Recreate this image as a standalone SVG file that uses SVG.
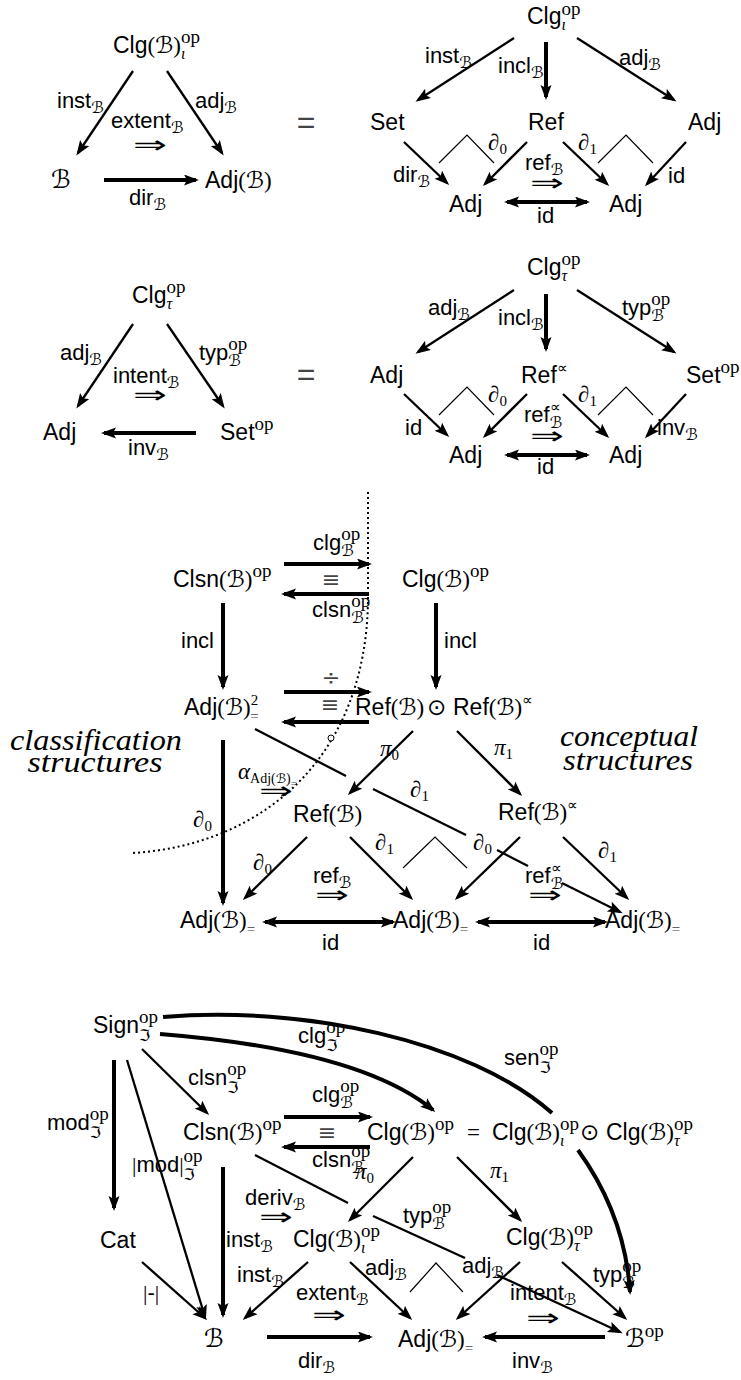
<svg xmlns="http://www.w3.org/2000/svg" width="741" height="1380" viewBox="0 0 741 1380">
<defs>
<style>
text{font-family:"Liberation Sans",Arial,sans-serif;font-size:23px;fill:#000}
.lb{font-size:22px}
.c{font-family:"DejaVu Sans",sans-serif;font-size:23px}
.cs{font-family:"DejaVu Sans",sans-serif;font-size:16px}
.rm{font-family:"Liberation Serif",serif}
.op{font-family:"Liberation Serif",serif;font-size:19px;font-style:normal}
.rs{font-family:"Liberation Serif",serif;font-size:15px;font-style:normal}
.mi{font-family:"Liberation Serif",serif;font-style:italic}
.mis{font-family:"Liberation Serif",serif;font-style:italic;font-size:16px}
.sym{font-family:"DejaVu Sans",sans-serif}
.gr{fill:#444}
.it{font-family:"Liberation Serif",serif;font-style:italic;font-size:30px}
.dbl{font-family:"DejaVu Sans",sans-serif;font-size:24px}
.t{stroke:#000;stroke-width:2.3;fill:none}
.k{stroke:#000;stroke-width:4;fill:none}
.w{stroke:#000;stroke-width:1.2;fill:none}
.dot{stroke:#000;stroke-width:2;fill:none;stroke-dasharray:2 3}
.a{marker-end:url(#ah)}
.aa{marker-start:url(#ah);marker-end:url(#ah)}
</style>
<marker id="ah" markerUnits="userSpaceOnUse" markerWidth="16" markerHeight="12" refX="12" refY="5.5" orient="auto-start-reverse"><path d="M0,0 L15,5.5 L0,11 L3,5.5 z" fill="#000"/></marker>
</defs>
<rect width="741" height="1380" fill="#fff"/>

<!-- ===== Diagram 1 ===== -->
<g id="d1-clg"><text x="113" y="53">Clg<tspan class="rm">(</tspan><tspan class="c">ℬ</tspan><tspan class="rm">)</tspan><tspan class="op" y="43">op</tspan><tspan class="mis" dx="-19" y="59">ι</tspan></text></g>
<g id="d1-b"><text class="c" x="51" y="188" style="font-size:25px">ℬ</text></g>
<g id="d1-adj"><text x="205" y="188">Adj<tspan class="rm">(</tspan><tspan class="c">ℬ</tspan><tspan class="rm">)</tspan></text></g>
<g id="eq1"><text x="306" y="133" text-anchor="middle" class="gr" style="font-size:32px">=</text></g>

<!-- ===== Diagram 2 ===== -->
<g id="d2-clg"><text x="527" y="24">Clg<tspan class="op" y="15">op</tspan><tspan class="mis" dx="-19" y="30">ι</tspan></text></g>
<g id="d2-set"><text x="370" y="130">Set</text></g>
<g id="d2-ref"><text x="528" y="130">Ref</text></g>
<g id="d2-adjr"><text x="688" y="130">Adj</text></g>
<g id="d2-adj1"><text x="449" y="212">Adj</text></g>
<g id="d2-adj2"><text x="609" y="212">Adj</text></g>

<!-- ===== Diagram 3 ===== -->
<g id="d3-clg"><text x="132" y="303">Clg<tspan class="op" y="293">op</tspan><tspan class="mis" dx="-19" y="309">τ</tspan></text></g>
<g id="d3-adj"><text x="43" y="440">Adj</text></g>
<g id="d3-set"><text x="220" y="440">Set<tspan class="op" y="430">op</tspan></text></g>
<g id="eq2"><text x="306" y="385" text-anchor="middle" class="gr" style="font-size:32px">=</text></g>

<!-- ===== Diagram 4 ===== -->
<g id="d4-clg"><text x="527" y="275">Clg<tspan class="op" y="265">op</tspan><tspan class="mis" dx="-19" y="281">τ</tspan></text></g>
<g id="d4-adjl"><text x="370" y="383">Adj</text></g>
<g id="d4-ref"><text x="521" y="383">Ref<tspan class="rs" y="373">∝</tspan></text></g>
<g id="d4-set"><text x="686" y="383">Set<tspan class="op" y="373">op</tspan></text></g>
<g id="d4-adj1"><text x="449" y="463">Adj</text></g>
<g id="d4-adj2"><text x="609" y="463">Adj</text></g>

<!-- ===== Middle diagram ===== -->
<g id="m-clsn"><text x="173" y="587">Clsn<tspan class="rm">(</tspan><tspan class="c">ℬ</tspan><tspan class="rm">)</tspan><tspan class="op" y="577">op</tspan></text></g>
<g id="m-clg"><text x="402" y="587">Clg<tspan class="rm">(</tspan><tspan class="c">ℬ</tspan><tspan class="rm">)</tspan><tspan class="op" y="577">op</tspan></text></g>
<g id="m-adj2"><text x="184" y="715">Adj<tspan class="rm">(</tspan><tspan class="c">ℬ</tspan><tspan class="rm">)</tspan><tspan class="rs" y="705">2</tspan><tspan class="rs gr" dx="-8" y="721">=</tspan></text></g>
<g id="m-refref"><text x="355" y="715">Ref<tspan class="rm">(</tspan><tspan class="c">ℬ</tspan><tspan class="rm">)</tspan><tspan class="sym" x="427">⊙</tspan><tspan x="453">Ref</tspan><tspan class="rm">(</tspan><tspan class="c">ℬ</tspan><tspan class="rm">)</tspan><tspan class="rs" y="705">∝</tspan></text></g>
<g id="m-ref"><text x="293" y="822">Ref<tspan class="rm">(</tspan><tspan class="c">ℬ</tspan><tspan class="rm">)</tspan></text></g>
<g id="m-refp"><text x="498" y="820">Ref<tspan class="rm">(</tspan><tspan class="c">ℬ</tspan><tspan class="rm">)</tspan><tspan class="rs" y="810">∝</tspan></text></g>
<g id="m-adj-l"><text x="180" y="928">Adj<tspan class="rm">(</tspan><tspan class="c">ℬ</tspan><tspan class="rm">)</tspan><tspan class="rs gr" y="934">=</tspan></text></g>
<g id="m-adj-m"><text x="393" y="928">Adj<tspan class="rm">(</tspan><tspan class="c">ℬ</tspan><tspan class="rm">)</tspan><tspan class="rs gr" y="934">=</tspan></text></g>
<g id="m-adj-r"><text x="605" y="928">Adj<tspan class="rm">(</tspan><tspan class="c">ℬ</tspan><tspan class="rm">)</tspan><tspan class="rs gr" y="934">=</tspan></text></g>
<g id="m-class"><text class="it" x="96" y="750" text-anchor="middle" textLength="172" lengthAdjust="spacingAndGlyphs">classification</text><text class="it" x="95" y="772" text-anchor="middle" textLength="135" lengthAdjust="spacingAndGlyphs">structures</text></g>
<g id="m-concept"><text class="it" x="629" y="746" text-anchor="middle" textLength="138" lengthAdjust="spacingAndGlyphs">conceptual</text><text class="it" x="628" y="770" text-anchor="middle" textLength="130" lengthAdjust="spacingAndGlyphs">structures</text></g>

<!-- ===== Bottom diagram ===== -->
<g id="b-sign"><text x="93" y="1033">Sign<tspan class="op" y="1023">op</tspan><tspan class="cs" dx="-19" y="1041">ℑ</tspan></text></g>
<g id="b-clsn"><text x="183" y="1140">Clsn<tspan class="rm">(</tspan><tspan class="c">ℬ</tspan><tspan class="rm">)</tspan><tspan class="op" y="1130">op</tspan></text></g>
<g id="b-clg"><text x="367" y="1140">Clg<tspan class="rm">(</tspan><tspan class="c">ℬ</tspan><tspan class="rm">)</tspan><tspan class="op" y="1130">op</tspan><tspan x="467" y="1140" class="rm">=</tspan><tspan x="492" y="1140">Clg</tspan><tspan class="rm">(</tspan><tspan class="c">ℬ</tspan><tspan class="rm">)</tspan><tspan class="op" y="1130">op</tspan><tspan class="mis" dx="-19" y="1146">ι</tspan><tspan class="sym" x="580" y="1140">⊙</tspan><tspan x="606" y="1140">Clg</tspan><tspan class="rm">(</tspan><tspan class="c">ℬ</tspan><tspan class="rm">)</tspan><tspan class="op" y="1130">op</tspan><tspan class="mis" dx="-19" y="1146">τ</tspan></text></g>
<g id="b-cat"><text x="100" y="1248">Cat</text></g>
<g id="b-clgi"><text x="293" y="1247">Clg<tspan class="rm">(</tspan><tspan class="c">ℬ</tspan><tspan class="rm">)</tspan><tspan class="op" y="1237">op</tspan><tspan class="mis" dx="-19" y="1253">ι</tspan></text></g>
<g id="b-clgt"><text x="506" y="1245">Clg<tspan class="rm">(</tspan><tspan class="c">ℬ</tspan><tspan class="rm">)</tspan><tspan class="op" y="1235">op</tspan><tspan class="mis" dx="-19" y="1251">τ</tspan></text></g>
<g id="b-b"><text class="c" x="204" y="1347" style="font-size:25px">ℬ</text></g>
<g id="b-adj"><text x="398" y="1347">Adj<tspan class="rm">(</tspan><tspan class="c">ℬ</tspan><tspan class="rm">)</tspan><tspan class="rs gr" y="1353">=</tspan></text></g>
<g id="b-bop"><text class="c" x="625" y="1347" style="font-size:25px">ℬ<tspan class="op" y="1337">op</tspan></text></g>

<!-- ===== Connectors and labels ===== -->
<g id="connectors">
<!-- D1 -->
<line class="t a" x1="133" y1="71" x2="78" y2="153"/>
<line class="t a" x1="167" y1="71" x2="222" y2="153"/>
<line class="k a" x1="104" y1="180" x2="196" y2="180"/>
<text class="lb" x="57" y="108">inst<tspan class="cs" y="113">ℬ</tspan></text>
<text class="lb" x="195" y="108">adj<tspan class="cs" y="113">ℬ</tspan></text>
<text class="lb" x="111" y="128">extent<tspan class="cs" y="133">ℬ</tspan></text>
<text class="dbl" x="150" y="153" text-anchor="middle" textLength="34" lengthAdjust="spacingAndGlyphs">⇒</text>
<text class="lb" x="129" y="205">dir<tspan class="cs" y="210">ℬ</tspan></text>
<!-- D2 -->
<line class="t a" x1="514" y1="38" x2="418" y2="100"/>
<line class="k a" x1="546" y1="42" x2="546" y2="97"/>
<line class="t a" x1="577" y1="38" x2="674" y2="100"/>
<line class="t a" x1="404" y1="142" x2="447" y2="183"/>
<line class="t a" x1="527" y1="142" x2="485" y2="184"/>
<line class="t a" x1="563" y1="142" x2="607" y2="184"/>
<line class="t a" x1="686" y1="142" x2="647" y2="184"/>
<polyline class="w" points="439,163 467,135 494,163"/>
<polyline class="w" points="598,163 626,135 653,163"/>
<line class="k aa" x1="507" y1="202" x2="587" y2="202"/>
<text class="lb" x="425" y="63">inst<tspan class="cs" y="68">ℬ</tspan></text>
<text class="lb" x="498" y="73">incl<tspan class="cs" y="78">ℬ</tspan></text>
<text class="lb" x="619" y="65">adj<tspan class="cs" y="70">ℬ</tspan></text>
<text class="mi" x="488" y="150">∂<tspan class="rs" y="154">0</tspan></text>
<text class="mi" x="578" y="150">∂<tspan class="rs" y="154">1</tspan></text>
<text class="lb" x="393" y="182">dir<tspan class="cs" y="187">ℬ</tspan></text>
<text class="lb" x="525" y="170">ref<tspan class="cs" y="175">ℬ</tspan></text>
<text class="dbl" x="547" y="191" text-anchor="middle" textLength="34" lengthAdjust="spacingAndGlyphs">⇒</text>
<text class="lb" x="668" y="183">id</text>
<text class="lb" x="537" y="223">id</text>
<!-- D3 -->
<line class="t a" x1="133" y1="324" x2="78" y2="406"/>
<line class="t a" x1="167" y1="324" x2="223" y2="406"/>
<line class="k a" x1="196" y1="433" x2="104" y2="433"/>
<text class="lb" x="60" y="360">adj<tspan class="cs" y="365">ℬ</tspan></text>
<text class="lb" x="199" y="360">typ<tspan class="op" y="350">op</tspan><tspan class="cs" dx="-19" y="366">ℬ</tspan></text>
<text class="lb" x="113" y="383">intent<tspan class="cs" y="388">ℬ</tspan></text>
<text class="dbl" x="150" y="403" text-anchor="middle" textLength="34" lengthAdjust="spacingAndGlyphs">⇒</text>
<text class="lb" x="128" y="455">inv<tspan class="cs" y="460">ℬ</tspan></text>
<!-- D4 -->
<line class="t a" x1="514" y1="290" x2="418" y2="352"/>
<line class="k a" x1="546" y1="294" x2="546" y2="349"/>
<line class="t a" x1="577" y1="290" x2="674" y2="352"/>
<line class="t a" x1="404" y1="394" x2="447" y2="435"/>
<line class="t a" x1="527" y1="394" x2="485" y2="436"/>
<line class="t a" x1="563" y1="394" x2="607" y2="436"/>
<line class="t a" x1="686" y1="394" x2="647" y2="436"/>
<polyline class="w" points="439,415 467,387 494,415"/>
<polyline class="w" points="598,415 626,387 653,415"/>
<line class="k aa" x1="507" y1="455" x2="587" y2="455"/>
<text class="lb" x="428" y="315">adj<tspan class="cs" y="320">ℬ</tspan></text>
<text class="lb" x="498" y="325">incl<tspan class="cs" y="330">ℬ</tspan></text>
<text class="lb" x="622" y="315">typ<tspan class="op" y="305">op</tspan><tspan class="cs" dx="-19" y="321">ℬ</tspan></text>
<text class="mi" x="488" y="402">∂<tspan class="rs" y="406">0</tspan></text>
<text class="mi" x="578" y="402">∂<tspan class="rs" y="406">1</tspan></text>
<text class="lb" x="405" y="435">id</text>
<text class="lb" x="524" y="422">ref<tspan class="rs" y="412">∝</tspan><tspan class="cs" dx="-11" y="428">ℬ</tspan></text>
<text class="dbl" x="547" y="444" text-anchor="middle" textLength="34" lengthAdjust="spacingAndGlyphs">⇒</text>
<text class="lb" x="657" y="435">inv<tspan class="cs" y="440">ℬ</tspan></text>
<text class="lb" x="537" y="474">id</text>
<!-- Middle -->
<path class="dot" d="M368,492 L368,600 C366,760 260,845 133,853"/>
<circle cx="331" cy="738" r="3" fill="#fff" stroke="#000" stroke-width="1"/>
<line class="k a" x1="284" y1="564" x2="369" y2="564"/>
<line class="k a" x1="369" y1="594" x2="284" y2="594"/>
<line class="k a" x1="223" y1="603" x2="223" y2="687"/>
<line class="k a" x1="436" y1="603" x2="436" y2="687"/>
<line class="k a" x1="284" y1="692" x2="369" y2="692"/>
<line class="k a" x1="369" y1="722" x2="284" y2="722"/>
<line class="k a" x1="223" y1="740" x2="223" y2="903"/>
<line class="t a" x1="413" y1="731" x2="350" y2="793"/>
<line class="t a" x1="457" y1="731" x2="520" y2="794"/>
<line class="t" x1="255" y1="729" x2="346" y2="776"/>
<line class="t" x1="373" y1="789" x2="466" y2="835"/>
<line class="t" x1="497" y1="850" x2="528" y2="866"/>
<line class="t a" x1="562" y1="883" x2="620" y2="912"/>
<line class="t a" x1="307" y1="837" x2="245" y2="898"/>
<line class="t a" x1="350" y1="837" x2="411" y2="898"/>
<line class="t a" x1="520" y1="837" x2="457" y2="898"/>
<line class="t a" x1="563" y1="837" x2="627" y2="898"/>
<polyline class="w" points="403,868 435,837 467,868"/>
<line class="k aa" x1="265" y1="922" x2="393" y2="922"/>
<line class="k aa" x1="478" y1="922" x2="605" y2="922"/>
<text class="lb" x="313" y="550">clg<tspan class="op" y="540">op</tspan><tspan class="cs" dx="-19" y="556">ℬ</tspan></text>
<text class="sym gr" x="331" y="587" text-anchor="middle" style="font-size:22px">≡</text>
<text class="lb" x="312" y="617">clsn<tspan class="op" y="607">op</tspan><tspan class="cs" dx="-19" y="623">ℬ</tspan></text>
<text class="lb" x="181" y="648">incl</text>
<text class="lb" x="444" y="648">incl</text>
<text class="sym gr" x="331" y="685" text-anchor="middle" style="font-size:22px">÷</text>
<text class="sym gr" x="330" y="712" text-anchor="middle" style="font-size:22px">≡</text>
<text class="mi" x="380" y="756">π<tspan class="rs" y="760">0</tspan></text>
<text class="mi" x="494" y="755">π<tspan class="rs" y="759">1</tspan></text>
<text class="mi" x="238" y="779">α<tspan class="lb" style="font-size:14px;font-style:normal" y="783">Adj<tspan class="rm">(</tspan><tspan class="cs" style="font-size:13px">ℬ</tspan><tspan class="rm">)</tspan><tspan class="rs gr" style="font-size:11px" y="787">=</tspan></tspan></text>
<text class="dbl" x="276" y="799" text-anchor="middle" textLength="34" lengthAdjust="spacingAndGlyphs">⇒</text>
<text class="mi" x="193" y="827">∂<tspan class="rs" y="831">0</tspan></text>
<text class="mi" x="410" y="797">∂<tspan class="rs" y="801">1</tspan></text>
<text class="mi" x="253" y="870">∂<tspan class="rs" y="874">0</tspan></text>
<text class="mi" x="375" y="850">∂<tspan class="rs" y="854">1</tspan></text>
<text class="mi" x="473" y="850">∂<tspan class="rs" y="854">0</tspan></text>
<text class="mi" x="598" y="858">∂<tspan class="rs" y="862">1</tspan></text>
<text class="lb" x="313" y="883">ref<tspan class="cs" y="888">ℬ</tspan></text>
<text class="dbl" x="332" y="903" text-anchor="middle" textLength="34" lengthAdjust="spacingAndGlyphs">⇒</text>
<text class="lb" x="525" y="883">ref<tspan class="rs" y="873">∝</tspan><tspan class="cs" dx="-11" y="889">ℬ</tspan></text>
<text class="dbl" x="545" y="903" text-anchor="middle" textLength="34" lengthAdjust="spacingAndGlyphs">⇒</text>
<text class="lb" x="322" y="950">id</text>
<text class="lb" x="533" y="950">id</text>
<!-- Bottom -->
<path class="k" d="M163,1017 C300,1005 470,1040 552,1113"/>
<path class="k a" d="M578,1150 Q625,1215 630,1292"/>
<path class="k a" d="M160,1034 Q360,1050 433,1110"/>
<line class="k a" x1="114" y1="1060" x2="114" y2="1208"/>
<line class="t a" x1="127" y1="1060" x2="205" y2="1317"/>
<line class="t a" x1="142" y1="1049" x2="207" y2="1113"/>
<line class="k a" x1="284" y1="1117" x2="370" y2="1117"/>
<line class="k a" x1="370" y1="1147" x2="284" y2="1147"/>
<line class="k a" x1="223" y1="1167" x2="223" y2="1315"/>
<line class="t a" x1="413" y1="1157" x2="350" y2="1220"/>
<line class="t a" x1="457" y1="1157" x2="520" y2="1220"/>
<line class="t" x1="255" y1="1155" x2="348" y2="1203"/>
<line class="t" x1="373" y1="1216" x2="465" y2="1258"/>
<line class="t a" x1="497" y1="1275" x2="620" y2="1332"/>
<line class="t a" x1="142" y1="1262" x2="205" y2="1318"/>
<line class="t a" x1="308" y1="1262" x2="245" y2="1318"/>
<line class="t a" x1="350" y1="1262" x2="410" y2="1318"/>
<line class="t a" x1="520" y1="1262" x2="458" y2="1318"/>
<line class="t a" x1="562" y1="1262" x2="625" y2="1318"/>
<polyline class="w" points="410,1292 436,1263 463,1292"/>
<line class="k a" x1="267" y1="1337" x2="370" y2="1337"/>
<line class="k a" x1="605" y1="1337" x2="485" y2="1337"/>
<text class="lb" x="298" y="1043">clg<tspan class="op" y="1033">op</tspan><tspan class="cs" dx="-19" y="1051">ℑ</tspan></text>
<text class="lb" x="504" y="1065">sen<tspan class="op" y="1055">op</tspan><tspan class="cs" dx="-19" y="1073">ℑ</tspan></text>
<text class="lb" x="188" y="1085">clsn<tspan class="op" y="1075">op</tspan><tspan class="cs" dx="-19" y="1093">ℑ</tspan></text>
<text class="lb" x="47" y="1130">mod<tspan class="op" y="1120">op</tspan><tspan class="cs" dx="-19" y="1138">ℑ</tspan></text>
<text class="lb" x="132" y="1172"><tspan class="rm">|</tspan>mod<tspan class="rm">|</tspan><tspan class="op" y="1162">op</tspan><tspan class="cs" dx="-19" y="1180">ℑ</tspan></text>
<text class="lb" x="312" y="1102">clg<tspan class="op" y="1092">op</tspan><tspan class="cs" dx="-19" y="1108">ℬ</tspan></text>
<text class="sym gr" x="327" y="1140" text-anchor="middle" style="font-size:22px">≡</text>
<text class="lb" x="312" y="1167">clsn<tspan class="op" y="1157">op</tspan><tspan class="cs" dx="-19" y="1173">ℬ</tspan></text>
<text class="mi" x="355" y="1179">π<tspan class="rs" y="1183">0</tspan></text>
<text class="mi" x="490" y="1178">π<tspan class="rs" y="1182">1</tspan></text>
<text class="lb" x="245" y="1205">deriv<tspan class="cs" y="1210">ℬ</tspan></text>
<text class="dbl" x="276" y="1225" text-anchor="middle" textLength="34" lengthAdjust="spacingAndGlyphs">⇒</text>
<text class="lb" x="403" y="1223">typ<tspan class="op" y="1213">op</tspan><tspan class="cs" dx="-19" y="1229">ℬ</tspan></text>
<text class="lb" x="226" y="1247">inst<tspan class="cs" y="1252">ℬ</tspan></text>
<text class="lb" x="237" y="1282">inst<tspan class="cs" y="1287">ℬ</tspan></text>
<text class="lb" x="365" y="1275">adj<tspan class="cs" y="1280">ℬ</tspan></text>
<text class="lb" x="462" y="1273">adj<tspan class="cs" y="1278">ℬ</tspan></text>
<text class="lb" x="593" y="1282">typ<tspan class="op" y="1272">op</tspan><tspan class="cs" dx="-19" y="1288">ℬ</tspan></text>
<text class="lb" x="143" y="1300"><tspan class="rm">|</tspan>-<tspan class="rm">|</tspan></text>
<text class="lb" x="296" y="1300">extent<tspan class="cs" y="1305">ℬ</tspan></text>
<text class="dbl" x="329" y="1323" text-anchor="middle" textLength="34" lengthAdjust="spacingAndGlyphs">⇒</text>
<text class="lb" x="510" y="1300">intent<tspan class="cs" y="1305">ℬ</tspan></text>
<text class="dbl" x="543" y="1326" text-anchor="middle" textLength="34" lengthAdjust="spacingAndGlyphs">⇒</text>
<text class="lb" x="298" y="1368">dir<tspan class="cs" y="1373">ℬ</tspan></text>
<text class="lb" x="512" y="1368">inv<tspan class="cs" y="1373">ℬ</tspan></text>
</g>
</svg>
